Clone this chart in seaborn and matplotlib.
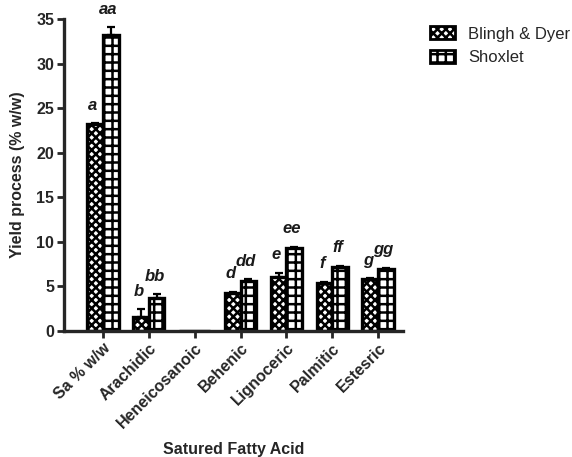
import matplotlib
matplotlib.use("Agg")
import matplotlib.pyplot as plt
import seaborn as sns
import pandas as pd
import numpy as np

categories = ["Sa % w/w", "Arachidic", "Heneicosanoic", "Behenic", "Lignoceric", "Palmitic", "Estesric"]
bligh = [23.2, 1.6, 0.0, 4.3, 6.1, 5.4, 5.8]
bligh_err = [0.1, 0.8, 0.0, 0.1, 0.4, 0.1, 0.1]
shox = [33.2, 3.7, 0.0, 5.6, 9.3, 7.2, 7.0]
shox_err = [0.9, 0.4, 0.0, 0.2, 0.1, 0.1, 0.1]
bligh_lab = ["a", "b", "", "d", "e", "f", "g"]
shox_lab = ["aa", "bb", "", "dd", "ee", "ff", "gg"]
series = ["Blingh & Dyer", "Shoxlet"]

sns.set_style("ticks")
plt.rcParams["font.family"] = ["Liberation Sans", "DejaVu Sans"]
plt.rcParams["hatch.linewidth"] = 1.8

df = pd.DataFrame({
    "cat": categories * 2,
    "val": bligh + shox,
    "series": [series[0]] * len(categories) + [series[1]] * len(categories),
})

fig = plt.figure(figsize=(5.72, 4.57), dpi=100)
ax = fig.add_axes([0.112, 0.276, 0.593, 0.682])
sns.barplot(data=df, x="cat", y="val", hue="series", ax=ax, width=0.68,
            palette=["white", "white"], edgecolor="black", linewidth=2.4,
            errorbar=None, legend=False)

hatches = ["xxxx", "++"]
bar_patches = [p for p in ax.patches]
n = len(categories)
for i, p in enumerate(bar_patches[:2 * n]):
    s = i // n
    p.set_hatch(hatches[s])
    p.set_edgecolor("black")

errs = [bligh_err, shox_err]
vals = [bligh, shox]
labs = [bligh_lab, shox_lab]
for s in range(2):
    for j in range(n):
        p = bar_patches[s * n + j]
        xc = p.get_x() + p.get_width() / 2
        if vals[s][j] > 0:
            ax.errorbar(xc, vals[s][j], yerr=[[0], [errs[s][j]]], fmt="none",
                        ecolor="black", elinewidth=1.6, capsize=3, capthick=1.6)
            ax.text(xc - 0.05, vals[s][j] + errs[s][j] + 1.2, labs[s][j], ha="center",
                    va="bottom", fontsize=12, fontweight="bold", style="italic",
                    color="#1a1a1a")

ax.set_ylim(0, 35)
ax.set_xlim(-0.85, 6.55)
ax.set_yticks(range(0, 36, 5))
ax.set_yticklabels([str(v) for v in range(0, 36, 5)], fontsize=11.5, fontweight="bold")
ax.set_xticks(range(n))
ax.set_xticklabels(categories, rotation=45, ha="right", rotation_mode="anchor",
                   fontsize=11.5, fontweight="bold")
ax.set_xlabel("Satured Fatty Acid", fontsize=11.5, fontweight="bold", labelpad=8)
ax.set_ylabel("Yield process (% w/w)", fontsize=11.5, fontweight="bold", labelpad=8)
sns.despine(ax=ax)
for sp in ["left", "bottom"]:
    ax.spines[sp].set_linewidth(2.4)
ax.tick_params(axis="both", width=2, length=5, direction="out", pad=2)

from matplotlib.patches import Patch
handles = [Patch(facecolor="white", edgecolor="black", hatch=hatches[k], linewidth=2) for k in range(2)]
fig.legend(handles, series, loc="upper left", bbox_to_anchor=(0.725, 0.975),
           frameon=False, fontsize=12, handlelength=1.5, handleheight=0.8)

fig.savefig("out.png", dpi=100)
